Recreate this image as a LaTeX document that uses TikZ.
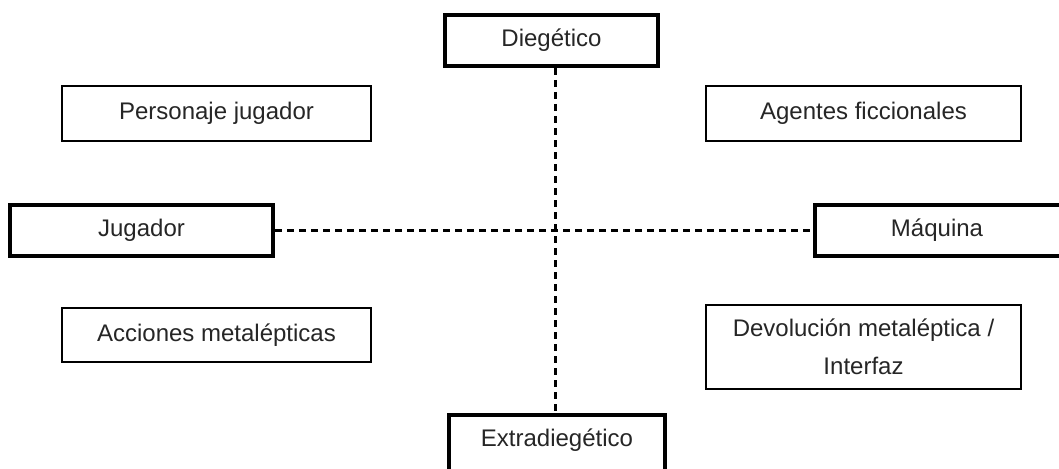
\documentclass[tikz,border=0pt]{standalone}
\usepackage{fontspec}
\setmainfont{Liberation Sans}
\begin{document}
\begin{tikzpicture}[x=1pt,y=-1pt,
  base/.style={draw=black, fill=white, inner sep=0pt, align=center, text=black!85,
    font=\fontsize{24}{38}\selectfont},
  thickbox/.style={base, line width=4pt},
  thinbox/.style={base, line width=2pt},
  dashline/.style={line width=3pt, dash pattern=on 7pt off 5pt}]
\useasboundingbox (0,0) rectangle (1059,468);
\clip (0,0) rectangle (1059,468);
\coordinate (vx) at (555,0);
\node[thickbox, minimum width=213pt, minimum height=51pt] (die) at (551.5,40.5) {Diegético};
\node[thickbox, minimum width=216pt, minimum height=58pt] (ext) at (557,444) {\raisebox{12pt}{Extradiegético}};
\node[thickbox, minimum width=263pt, minimum height=51pt] (jug) at (141.5,230.5) {Jugador};
\node[thickbox, minimum width=248pt, minimum height=51pt] (maq) at (939,230.5) {\hspace*{-4pt}Máquina\hspace*{0pt}};
\draw[dashline] (vx |- die.south) -- (vx |- ext.north);
\draw[dashline] (jug.east) -- (maq.west);
\node[thinbox, minimum width=309pt, minimum height=55pt] (per) at (216.5,113.5) {Personaje jugador};
\node[thinbox, minimum width=315pt, minimum height=55pt] (age) at (863.5,113.5) {Agentes ficcionales};
\node[thinbox, minimum width=309pt, minimum height=54pt] (acc) at (216.5,335) {Acciones metalépticas};
\node[thinbox, minimum width=315pt, minimum height=84pt] (dev) at (863.5,347) {Devolución metaléptica /\\Interfaz};
\end{tikzpicture}
\end{document}
